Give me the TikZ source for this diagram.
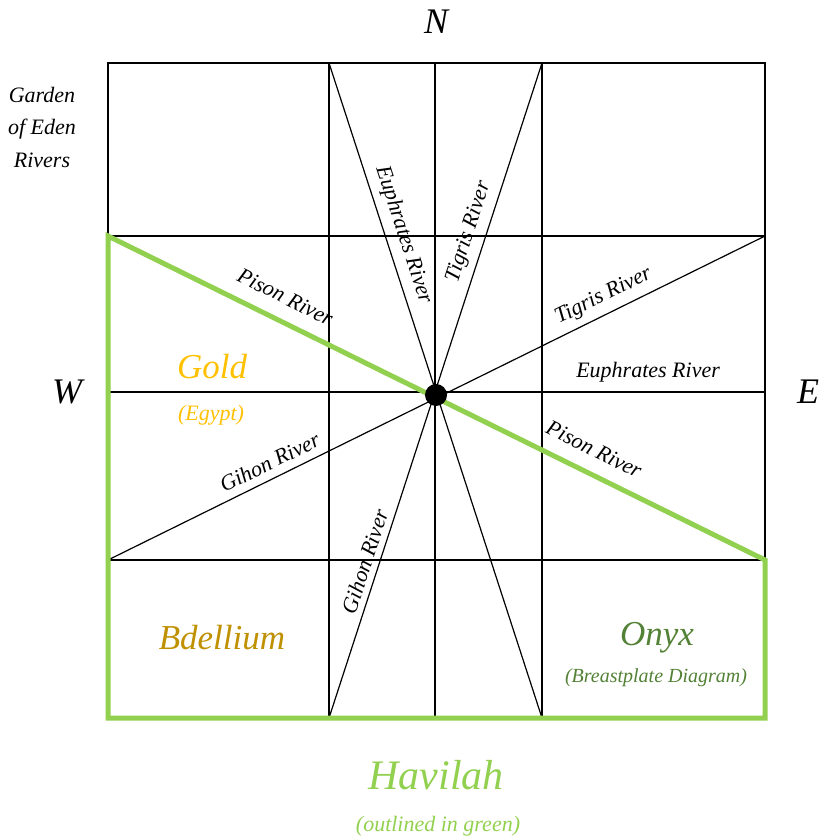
\documentclass[tikz,border=0pt]{standalone}
\usepackage{fontspec}
\setmainfont{Liberation Serif}
\usepackage{xcolor}
\usepackage{tikz}
\usetikzlibrary{positioning}
\definecolor{goldtxt}{HTML}{FFC000}
\definecolor{bdelltxt}{HTML}{BF9000}
\definecolor{onyxtxt}{HTML}{538135}
\definecolor{havgreen}{HTML}{92D050}
\tikzset{
  gridline/.style={black,line width=0.6pt},
  river/.style={black,line width=0.6pt},
  border/.style={black,line width=1.3pt},
  outline/.style={havgreen,line width=2.5pt,line join=miter},
  compass/.style={font=\itshape\fontsize{18}{20}\selectfont,inner sep=0pt},
  riverlabel/.style={font=\itshape\fontsize{11}{13}\selectfont,sloped,inner sep=2pt},
  gemlabel/.style={font=\itshape\fontsize{17.5}{20}\selectfont,inner sep=0pt},
  note/.style={font=\itshape\fontsize{11}{13}\selectfont,inner sep=0pt},
  eden/.style={circle,fill=black,minimum size=11pt,inner sep=0pt}
}
\begin{document}
\begin{tikzpicture}[x=0.5pt,y=-0.5pt]
  \useasboundingbox (0,0) rectangle (825,839);
  % Square and its corners
  \coordinate (sw) at (108,718);
  \coordinate (ne) at (765,63);
  % Grid
  \foreach \gx in {329,435,542} {
    \draw[gridline] (\gx,63) -- (\gx,718);
  }
  \foreach \gy in {236,560} {
    \draw[gridline] (108,\gy) -- (765,\gy);
  }
  \draw[river] (108,392) -- (765,392)
    node[riverlabel,above=2.5pt,pos=0.822] (euphE) {Euphrates River};
  % Rivers through the garden
  \draw[river] (329,63) -- (542,718)
    node[riverlabel,above=1.5pt,pos=0.271] (euphN) {Euphrates River};
  \draw[river] (542,63) -- (329,718)
    node[riverlabel,above=1.5pt,pos=0.266] (tigN) {Tigris River}
    node[riverlabel,above=1pt,pos=0.768] (gihS) {Gihon River};
  \draw[river] (108,560) -- (765,236)
    node[riverlabel,above=2pt,pos=0.257] (gihW) {Gihon River}
    node[riverlabel,above=1.5pt,pos=0.766] (tigE) {Tigris River};
  \draw[border] (sw) rectangle (ne);
  % Havilah outline
  \draw[outline] (108,236) -- (108,718) -- (765,718) -- (765,560) -- cycle;
  \path (108,236) -- (765,560)
    node[riverlabel,above=6pt,pos=0.254] (pisW) {Pison River}
    node[riverlabel,above=6pt,pos=0.724] (pisE) {Pison River};
  \node[eden] (garden) at (436,395) {};
  % Compass
  \node[compass] (north) at (436,22) {N};
  \node[compass] (west) at (67,392) {W};
  \node[compass] (east) at (808,392) {E};
  \node[note,align=center,font=\itshape\fontsize{11}{16.25}\selectfont] (title) at (42,127)
    {Garden\\of Eden\\Rivers};
  % Lands and gems
  \node[gemlabel,goldtxt] (gold) at (212,367) {Gold};
  \node[note,goldtxt] (egypt) at (211,415) {(Egypt)};
  \node[gemlabel,bdelltxt] (bdellium) at (222,638) {Bdellium};
  \node[gemlabel,onyxtxt] (onyx) at (657,638) {Onyx};
  \node[note,onyxtxt,font=\itshape\fontsize{10}{12}\selectfont] (breast) at (656,678) {(Breastplate Diagram)};
  \node[gemlabel,havgreen,font=\itshape\fontsize{21}{24}\selectfont] (havilah) at (436,775) {Havilah};
  \node[note,havgreen] (outlined) at (438,826) {(outlined in green)};
\end{tikzpicture}
\end{document}
